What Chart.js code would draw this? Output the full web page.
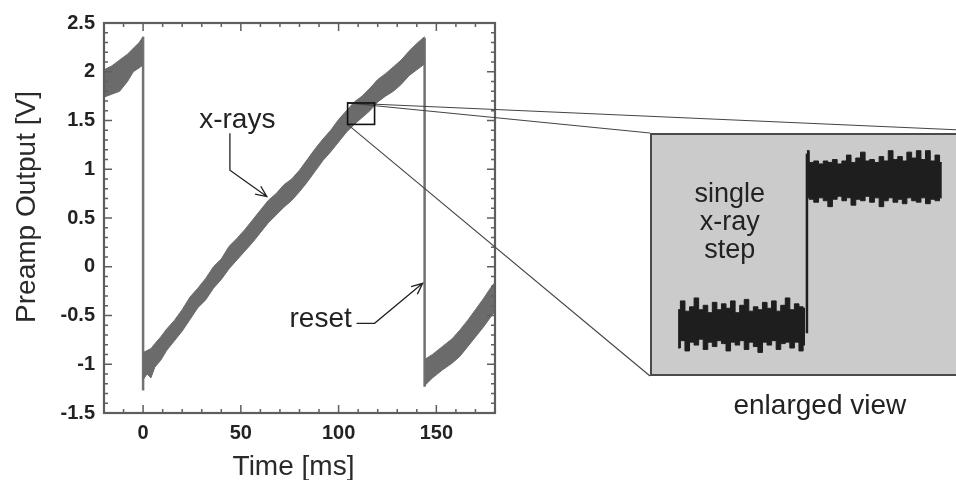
<!DOCTYPE html>
<html>
<head>
<meta charset="utf-8">
<title>Preamp Output vs Time</title>
<script src="https://cdn.jsdelivr.net/npm/chart.js@4.4.1/dist/chart.umd.min.js"></script>
<style>
  html, body { margin: 0; padding: 0; background: #fff; }
  body { width: 956px; height: 480px; overflow: hidden; position: relative; }
  #mainChart { position: absolute; left: 0; top: 0; }
  #insetChart { position: absolute; left: 650px; top: 133px; }
</style>
</head>
<body>
<canvas id="mainChart" width="956" height="480"></canvas>
<canvas id="insetChart" width="380" height="243"></canvas>
<script>
// ---- axes ----
const xTickLabels = [0, 50, 100, 150];
const yTickLabels = [-1.5, -1, -0.5, 0, 0.5, 1, 1.5, 2, 2.5];
const xMinorStep = 10;
const yMinorStep = 0.1;

// ---- preamp output: noisy ramp drawn as top/bottom edge of the trace (V) ----
const seg1X   = [-20, -16, -12, -8, -5, -2, 0];
const seg1Top = [2.02, 2.06, 2.12, 2.18, 2.24, 2.30, 2.36];
const seg1Bot = [1.74, 1.77, 1.80, 1.90, 2.00, 2.04, 2.07];

const seg2X   = [0, 2, 4, 6, 9, 12, 16, 20, 24, 28, 32, 36, 40, 44, 48, 52, 56, 60, 64, 68,
                 72, 76, 80, 84, 88, 92, 96, 100, 104, 108, 112, 116, 120, 124, 128, 132, 136, 140, 144];
const seg2Top = [-0.88, -0.86, -0.84, -0.79, -0.72, -0.64, -0.55, -0.44, -0.31, -0.22, -0.12, 0.00,
                 0.08, 0.21, 0.29, 0.38, 0.48, 0.58, 0.68, 0.75, 0.84, 0.90, 0.99, 1.10, 1.21, 1.31,
                 1.40, 1.51, 1.60, 1.69, 1.75, 1.83, 1.92, 1.98, 2.05, 2.12, 2.21, 2.29, 2.36];
const seg2Bot = [-1.16, -1.10, -1.14, -1.03, -0.96, -0.86, -0.76, -0.66, -0.54, -0.42, -0.34, -0.22,
                 -0.13, -0.02, 0.07, 0.16, 0.25, 0.35, 0.45, 0.53, 0.61, 0.68, 0.77, 0.87, 0.98, 1.09,
                 1.18, 1.28, 1.38, 1.46, 1.53, 1.60, 1.69, 1.75, 1.80, 1.87, 1.96, 2.02, 2.08];

const seg3X   = [144, 148, 153, 158, 162, 166, 170, 174, 178, 180];
const seg3Top = [-0.95, -0.90, -0.82, -0.74, -0.65, -0.55, -0.44, -0.33, -0.21, -0.16];
const seg3Bot = [-1.22, -1.14, -1.06, -0.99, -0.92, -0.82, -0.72, -0.62, -0.51, -0.46];

// reset transitions
const resetX      = [0, 144];
const resetTop    = [2.36, 2.35];
const resetBottom = [-1.27, -1.23];

// ---- enlarged view: single x-ray step (arbitrary units) ----
const stepLowX   = [7.4, 8.6, 9.8, 11.0, 12.2, 13.4, 14.6, 15.8, 17.0, 18.2, 19.4, 20.6, 21.8, 23.0, 24.2,
                    25.4, 26.6, 27.8, 29.0, 30.2, 31.4, 32.6, 33.8, 35.0, 36.2, 37.4, 38.6, 39.8, 40.8];
const stepLowTop = [0.12, 0.18, 0.11, 0.14, 0.20, 0.12, 0.15, 0.10, 0.17, 0.12, 0.16, 0.13, 0.18, 0.10, 0.15,
                    0.19, 0.11, 0.14, 0.12, 0.17, 0.13, 0.18, 0.11, 0.15, 0.20, 0.12, 0.16, 0.14, 0.13];
const stepLowBot = [-0.14, -0.09, -0.16, -0.10, -0.12, -0.08, -0.15, -0.10, -0.13, -0.09, -0.11, -0.16, -0.10, -0.12, -0.09,
                    -0.15, -0.10, -0.13, -0.17, -0.10, -0.12, -0.09, -0.15, -0.11, -0.10, -0.14, -0.10, -0.16, -0.12];
const stepHighX   = [41.3, 42.5, 43.7, 45.0, 46.2, 47.4, 48.6, 49.9, 51.1, 52.3, 53.5, 54.8, 56.0, 57.2, 58.4,
                     59.7, 60.9, 62.1, 63.3, 64.6, 65.8, 67.0, 68.2, 69.5, 70.7, 71.9, 73.1, 74.4, 75.6, 76.8];
const stepHighTop = [1.20, 1.12, 1.13, 1.11, 1.13, 1.12, 1.14, 1.11, 1.13, 1.17, 1.12, 1.15, 1.19, 1.13, 1.14,
                     1.12, 1.16, 1.13, 1.20, 1.14, 1.16, 1.13, 1.19, 1.15, 1.20, 1.14, 1.20, 1.13, 1.17, 1.12];
const stepHighBot = [0.88, 0.87, 0.85, 0.88, 0.86, 0.82, 0.87, 0.89, 0.86, 0.88, 0.83, 0.87, 0.86, 0.89, 0.85,
                     0.88, 0.82, 0.86, 0.88, 0.85, 0.87, 0.84, 0.88, 0.86, 0.85, 0.88, 0.84, 0.87, 0.86, 0.88];
const stepRiseX = [41.3, 41.3];
const stepRiseY = [-0.04, 1.18];

// ---- annotations (data coordinates) ----
const zoomBox = { x0: 104.6, x1: 118.4, y0: 1.46, y1: 1.68 };
const xrayArrow  = { x: [44.4, 44.4, 63.3], y: [1.37, 0.99, 0.72] };
const xrayLabel  = { x: 48.2, y: 1.42 };
const resetArrow = { x: [109.2, 118.4, 143.0], y: [-0.58, -0.58, -0.17] };
const resetLabel = { x: 90.8, y: -0.62 };
const stepLabel  = { x: 21, y: [0.85, 0.66, 0.47], lines: ["single", "x-ray", "step"] };

const FONT = "'Liberation Sans', Arial, Helvetica, sans-serif";
const BAND = "#6b6b6b";
const INK = "#222";

const pairs = (xs, ys) => xs.map((x, i) => ({ x, y: ys[i] }));

function band(xs, top, bot, color, stepped) {
  return [
    { data: pairs(xs, top), borderColor: color, backgroundColor: color, borderWidth: 1, fill: "+1", stepped: stepped || false },
    { data: pairs(xs, bot), borderColor: color, borderWidth: 1, fill: false, stepped: stepped || false }
  ];
}

function arrow(ctx, pts) {
  ctx.beginPath();
  ctx.moveTo(pts[0][0], pts[0][1]);
  pts.slice(1).forEach((p) => ctx.lineTo(p[0], p[1]));
  const [ax, ay] = pts[pts.length - 2];
  const [bx, by] = pts[pts.length - 1];
  const ang = Math.atan2(by - ay, bx - ax);
  const h = 12, spread = 0.42;
  ctx.moveTo(bx - h * Math.cos(ang - spread), by - h * Math.sin(ang - spread));
  ctx.lineTo(bx, by);
  ctx.lineTo(bx - h * Math.cos(ang + spread), by - h * Math.sin(ang + spread));
  ctx.stroke();
}

/* ---------------- inset (enlarged view) ---------------- */
const insetCanvas = document.getElementById("insetChart");

const insetFrame = {
  id: "insetFrame",
  beforeDraw(chart) {
    const { ctx, width, height } = chart;
    ctx.save();
    ctx.fillStyle = "#cbcbcb";
    ctx.fillRect(0, 0, width, height);
    ctx.strokeStyle = "#4a4a4a";
    ctx.lineWidth = 2;
    ctx.beginPath();
    ctx.moveTo(width, 1);
    ctx.lineTo(1, 1);
    ctx.lineTo(1, height - 1);
    ctx.lineTo(width, height - 1);
    ctx.stroke();
    ctx.restore();
  },
  afterDraw(chart) {
    const { ctx, scales: { x, y } } = chart;
    ctx.save();
    ctx.fillStyle = INK;
    ctx.font = `27px ${FONT}`;
    ctx.textAlign = "center";
    ctx.textBaseline = "alphabetic";
    stepLabel.lines.forEach((t, i) => ctx.fillText(t, x.getPixelForValue(stepLabel.x), y.getPixelForValue(stepLabel.y[i])));
    ctx.restore();
  }
};

const insetChart = new Chart(insetCanvas, {
  type: "line",
  data: {
    datasets: [
      ...band(stepLowX, stepLowTop, stepLowBot, "#1e1e1e", "middle"),
      ...band(stepHighX, stepHighTop, stepHighBot, "#1e1e1e", "middle"),
      { data: pairs(stepRiseX, stepRiseY), borderColor: "#1e1e1e", borderWidth: 2.5, fill: false }
    ]
  },
  options: {
    responsive: false,
    animation: false,
    layout: { padding: 0 },
    elements: { point: { radius: 0 }, line: { tension: 0 } },
    plugins: { legend: { display: false }, tooltip: { enabled: false } },
    scales: {
      x: { type: "linear", display: false, min: 0, max: 100 },
      y: { type: "linear", display: false, min: -0.33, max: 1.32 }
    }
  },
  plugins: [insetFrame]
});

/* ---------------- main chart ---------------- */
const frameTicks = {
  id: "frameTicks",
  afterDatasetsDraw(chart) {
    const { ctx, chartArea: a, scales: { x, y } } = chart;
    ctx.save();
    ctx.strokeStyle = "#5e5e5e";
    ctx.lineWidth = 1.5;
    ctx.beginPath();
    const nx = Math.round((x.max - x.min) / xMinorStep);
    for (let i = 0; i <= nx; i++) {
      const v = x.min + i * xMinorStep;
      const p = x.getPixelForValue(v);
      const len = xTickLabels.includes(v) ? 8 : 4;
      ctx.moveTo(p, a.bottom); ctx.lineTo(p, a.bottom - len);
      ctx.moveTo(p, a.top); ctx.lineTo(p, a.top + len);
    }
    const ny = Math.round((y.max - y.min) / yMinorStep);
    for (let i = 0; i <= ny; i++) {
      const v = y.min + i * yMinorStep;
      const p = y.getPixelForValue(v);
      const major = yTickLabels.some((t) => Math.abs(t - v) < 1e-6);
      const len = major ? 8 : 4;
      ctx.moveTo(a.left, p); ctx.lineTo(a.left + len, p);
      ctx.moveTo(a.right, p); ctx.lineTo(a.right - len, p);
    }
    ctx.stroke();
    ctx.lineWidth = 2.2;
    ctx.strokeRect(a.left, a.top, a.right - a.left, a.bottom - a.top);
    ctx.restore();
  }
};

const annotations = {
  id: "annotations",
  afterDraw(chart) {
    const { ctx, chartArea: a, scales: { x, y } } = chart;
    const px = (v) => x.getPixelForValue(v);
    const py = (v) => y.getPixelForValue(v);
    ctx.save();

    // zoom box and leader lines to the enlarged view
    const L = insetCanvas.offsetLeft, T = insetCanvas.offsetTop;
    const R = L + insetChart.width, B = T + insetChart.height;
    ctx.strokeStyle = "#444";
    ctx.lineWidth = 1.1;
    ctx.beginPath();
    ctx.moveTo(px(zoomBox.x0), py(zoomBox.y1)); ctx.lineTo(R, T);
    ctx.moveTo(px(zoomBox.x0), py(zoomBox.y1)); ctx.lineTo(L, T);
    ctx.moveTo(px(zoomBox.x0), py(zoomBox.y0)); ctx.lineTo(L, B);
    ctx.stroke();
    ctx.strokeStyle = "#111";
    ctx.lineWidth = 1.6;
    ctx.strokeRect(px(zoomBox.x0), py(zoomBox.y1), px(zoomBox.x1) - px(zoomBox.x0), py(zoomBox.y0) - py(zoomBox.y1));

    // arrows
    ctx.strokeStyle = INK;
    ctx.lineWidth = 1.3;
    arrow(ctx, xrayArrow.x.map((v, i) => [px(v), py(xrayArrow.y[i])]));
    arrow(ctx, resetArrow.x.map((v, i) => [px(v), py(resetArrow.y[i])]));

    // labels
    ctx.fillStyle = INK;
    ctx.font = `28px ${FONT}`;
    ctx.textAlign = "center";
    ctx.textBaseline = "alphabetic";
    ctx.fillText("x-rays", px(xrayLabel.x), py(xrayLabel.y));
    ctx.fillText("reset", px(resetLabel.x), py(resetLabel.y));
    ctx.fillText("enlarged view", L + insetChart.scales.x.getPixelForValue(44.7), B + 38);

    // axis titles
    ctx.fillStyle = "#2a2a2a";
    ctx.fillText("Time [ms]", a.left + (a.right - a.left) / 2 - 6, a.bottom + 62);
    ctx.translate(a.left - 69, a.top + (a.bottom - a.top) / 2 - 11);
    ctx.rotate(-Math.PI / 2);
    ctx.fillText("Preamp Output [V]", 0, 0);
    ctx.restore();
  }
};

const datasets = [
  ...band(seg1X, seg1Top, seg1Bot, BAND),
  ...band(seg2X, seg2Top, seg2Bot, BAND),
  ...band(seg3X, seg3Top, seg3Bot, BAND),
  ...resetX.map((rx, i) => ({
    data: [{ x: rx, y: resetTop[i] }, { x: rx, y: resetBottom[i] }],
    borderColor: "#727272",
    borderWidth: 2.5,
    fill: false
  }))
];

const tickFont = { family: FONT, size: 20, weight: "bold" };

new Chart(document.getElementById("mainChart"), {
  type: "line",
  data: { datasets },
  options: {
    responsive: false,
    animation: false,
    layout: { padding: { left: 0, top: 23, right: 461, bottom: 0 } },
    elements: { point: { radius: 0 }, line: { tension: 0 } },
    plugins: { legend: { display: false }, tooltip: { enabled: false } },
    scales: {
      x: {
        type: "linear",
        min: -20,
        max: 180,
        afterBuildTicks: (s) => { s.ticks = xTickLabels.map((v) => ({ value: v })); },
        afterFit: (s) => { s.height = 67; },
        grid: { display: false, drawTicks: false },
        border: { display: false },
        ticks: { color: INK, font: tickFont, padding: 8, maxRotation: 0, autoSkip: false, callback: (v) => String(v) }
      },
      y: {
        type: "linear",
        min: -1.5,
        max: 2.5,
        afterBuildTicks: (s) => { s.ticks = yTickLabels.map((v) => ({ value: v })); },
        afterFit: (s) => { s.width = 104; },
        grid: { display: false, drawTicks: false },
        border: { display: false },
        ticks: { color: INK, font: tickFont, padding: 9, autoSkip: false, callback: (v) => String(v) }
      }
    }
  },
  plugins: [frameTicks, annotations]
});
</script>
</body>
</html>
